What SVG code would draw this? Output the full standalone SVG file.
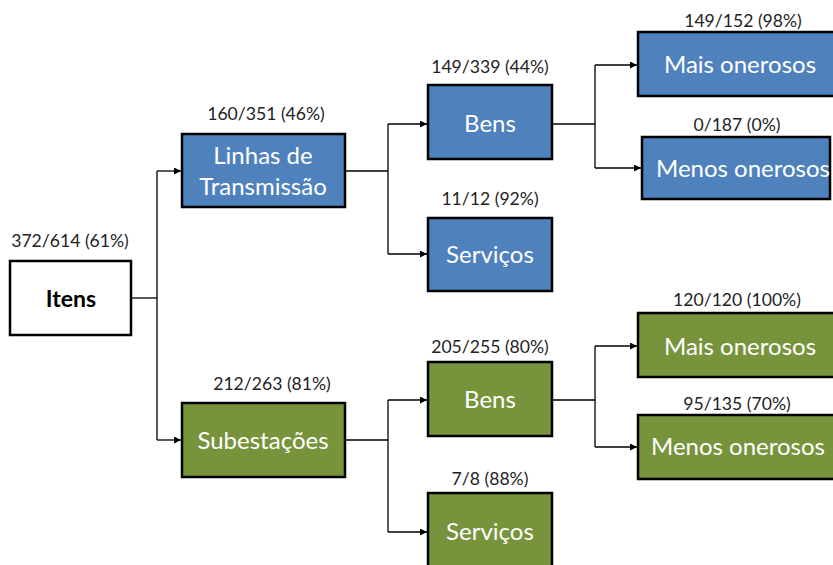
<svg xmlns="http://www.w3.org/2000/svg" width="833" height="565" viewBox="0 0 833 565">
<style>
.box{stroke:#000;stroke-width:2.5}
.blue{fill:#4F81BD}
.green{fill:#77933C}
.t{font-family:Lato,"Open Sans","Liberation Sans",sans-serif;font-size:24px;fill:#fff;text-anchor:middle}
.lb{font-family:Lato,"Open Sans","Liberation Sans",sans-serif;font-size:17.6px;fill:#222;text-anchor:middle}
.c{fill:none;stroke:#000;stroke-width:1.3}
</style>
<defs>
<marker id="a" viewBox="0 0 10 10" refX="10" refY="5" markerWidth="7" markerHeight="7" markerUnits="userSpaceOnUse" orient="auto"><path d="M0,0 L10,5 L0,10 z" fill="#000"/></marker>
</defs>
<rect width="833" height="565" fill="#fff"/>
<g id="connectors">
<path class="c" d="M131,298 H157"/>
<path class="c" d="M157,171 V440"/>
<path class="c" d="M157,171 H181" marker-end="url(#a)"/>
<path class="c" d="M157,440 H181" marker-end="url(#a)"/>
<path class="c" d="M345,171 H388"/>
<path class="c" d="M388,124 V254"/>
<path class="c" d="M388,124 H427" marker-end="url(#a)"/>
<path class="c" d="M388,254 H427" marker-end="url(#a)"/>
<path class="c" d="M552,124 H595"/>
<path class="c" d="M595,65 V168"/>
<path class="c" d="M595,65 H637" marker-end="url(#a)"/>
<path class="c" d="M595,168 H641" marker-end="url(#a)"/>
<path class="c" d="M345,440 H388"/>
<path class="c" d="M388,400 V532"/>
<path class="c" d="M388,400 H427" marker-end="url(#a)"/>
<path class="c" d="M388,532 H427" marker-end="url(#a)"/>
<path class="c" d="M552,400 H595"/>
<path class="c" d="M595,346 V447"/>
<path class="c" d="M595,346 H637" marker-end="url(#a)"/>
<path class="c" d="M595,447 H637" marker-end="url(#a)"/>
</g>
<g id="itens">
<text class="lb" x="70" y="247">372/614 (61%)</text>
<rect class="box" x="10" y="261" width="121" height="74" fill="#fff"/>
<text x="71" y="307" font-family="Lato,'Open Sans','Liberation Sans',sans-serif" font-size="23" font-weight="bold" text-anchor="middle" fill="#000">Itens</text>
</g>
<g id="linhas">
<text class="lb" x="266" y="120">160/351 (46%)</text>
<rect class="box blue" x="182" y="134" width="163" height="73"/>
<text class="t" x="263" y="164">Linhas de</text>
<text class="t" x="263" y="195">Transmissão</text>
</g>
<g id="bens1">
<text class="lb" x="490" y="73">149/339 (44%)</text>
<rect class="box blue" x="428" y="85" width="124" height="74"/>
<text class="t" x="490" y="132">Bens</text>
</g>
<g id="servicos1">
<text class="lb" x="490" y="205">11/12 (92%)</text>
<rect class="box blue" x="428" y="218" width="124" height="73"/>
<text class="t" x="490" y="263">Serviços</text>
</g>
<g id="mais1">
<text class="lb" x="743" y="27">149/152 (98%)</text>
<rect class="box blue" x="638" y="32" width="200" height="64"/>
<text class="t" x="740" y="73">Mais onerosos</text>
</g>
<g id="menos1">
<text class="lb" x="737" y="131">0/187 (0%)</text>
<rect class="box blue" x="642" y="137" width="188" height="62"/>
<text class="t" x="743" y="177">Menos onerosos</text>
</g>
<g id="subestacoes">
<text class="lb" x="272" y="390">212/263 (81%)</text>
<rect class="box green" x="182" y="403" width="163" height="74"/>
<text class="t" x="263" y="449">Subestações</text>
</g>
<g id="bens2">
<text class="lb" x="490" y="353">205/255 (80%)</text>
<rect class="box green" x="428" y="362" width="124" height="74"/>
<text class="t" x="490" y="408">Bens</text>
</g>
<g id="servicos2">
<text class="lb" x="490" y="485">7/8 (88%)</text>
<rect class="box green" x="428" y="493" width="124" height="80"/>
<text class="t" x="490" y="540">Serviços</text>
</g>
<g id="mais2">
<text class="lb" x="737" y="306">120/120 (100%)</text>
<rect class="box green" x="638" y="313" width="200" height="64"/>
<text class="t" x="740" y="355">Mais onerosos</text>
</g>
<g id="menos2">
<text class="lb" x="737" y="410">95/135 (70%)</text>
<rect class="box green" x="638" y="415" width="200" height="64"/>
<text class="t" x="738" y="455">Menos onerosos</text>
</g>
</svg>
